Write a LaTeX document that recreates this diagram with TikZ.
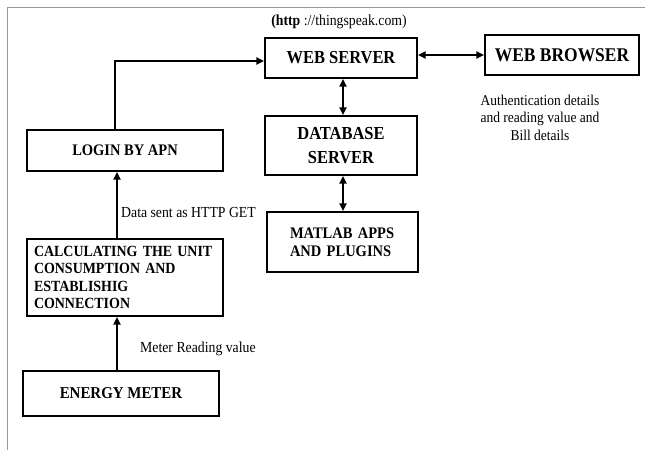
\documentclass[tikz,border=0pt]{standalone}
\usepackage{fontspec}
\setmainfont{Liberation Serif}[FakeStretch=0.9]
\usetikzlibrary{arrows.meta}
\begin{document}
\begin{tikzpicture}[x=1pt,y=-1pt,
  box/.style={draw, line width=2.1pt, inner sep=0pt},
  tip/.tip={Triangle[length=7.5pt,width=7pt]},
  conn/.style={line width=1.8pt, -tip},
  biconn/.style={line width=1.8pt, tip-tip},
  lbl/.style={font=\fontsize{15.3}{17.5}\selectfont, inner sep=0pt}]
\useasboundingbox (0,0) rectangle (645,450);
\draw[gray!80, line width=1pt] (645,7) -- (7,7) -- (7,450);

\node[box, minimum width=152pt, minimum height=40pt,
  font=\bfseries\fontsize{18.3}{20}\selectfont] (ws) at (341,58) {WEB SERVER};
\node[box, minimum width=154pt, minimum height=40pt,
  font=\bfseries\fontsize{19.4}{20}\selectfont] (wb) at (562,55) {WEB BROWSER};
\node[box, minimum width=152pt, minimum height=59pt, align=center,
  font=\bfseries\fontsize{18.3}{24}\selectfont] (db) at (341,145.5) {DATABASE\\SERVER};
\node[box, minimum width=151pt, minimum height=60pt, align=left,
  text width=105pt, inner xsep=23pt,
  font=\bfseries\fontsize{16.1}{18}\selectfont] (ml) at (342.5,242) {MATLAB APPS\\AND PLUGINS};
\node[box, minimum width=196pt, minimum height=41pt,
  font=\bfseries\fontsize{16.1}{18}\selectfont] (lg) at (125,150.5) {LOGIN BY APN};
\node[box, minimum width=196pt, minimum height=77pt, align=left,
  text width=182pt, inner xsep=7pt,
  font=\bfseries\fontsize{15.5}{17.4}\selectfont] (ca) at (125,277.5)
  {CALCULATING THE UNIT\\CONSUMPTION AND\\ESTABLISHIG\\CONNECTION};
\node[box, minimum width=196pt, minimum height=45pt,
  font=\bfseries\fontsize{16.6}{18}\selectfont] (em) at (121,393.5) {ENERGY METER};

\node[lbl] (url) at (339,22) {\textbf{(http} ://thingspeak.com)};
\node[lbl, align=center, font=\fontsize{15}{17.5}\selectfont] (auth) at (540,117.5)
  {Authentication details\\and reading value and\\Bill details};
\node[lbl, anchor=west] (lget) at (121,213) {Data sent as HTTP GET};
\node[lbl, anchor=west] (lmr) at (140,349) {Meter Reading value};

\coordinate (lgtop) at (115,130);
\coordinate (vx) at (343,0);
\coordinate (cax) at (117,0);
\draw[conn] (lg.north -| lgtop) |- ([yshift=-3pt]ws.west);
\draw[biconn] (ws.east |- wb.west) -- (wb.west);
\draw[biconn] (ws.south -| vx) -- (db.north -| vx);
\draw[biconn] (db.south -| vx) -- (ml.north -| vx);
\draw[conn] (ca.north -| cax) -- (lg.south -| cax);
\draw[conn] (em.north -| cax) -- (ca.south -| cax);
\end{tikzpicture}
\end{document}
